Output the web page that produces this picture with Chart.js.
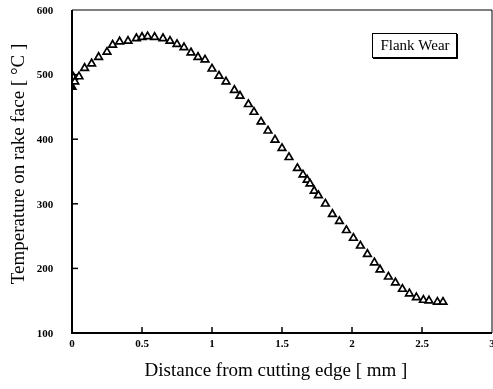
<!DOCTYPE html>
<html lang="en">

<head>
    <meta charset="UTF-8">
    <title>Flank Wear</title>
    <style>
        html, body { margin: 0; padding: 0; background: #fff; }
        #wrap { width: 493px; height: 389px; }
    </style>
</head>

<body>
    <div id="wrap"><canvas id="chart" width="493" height="389"></canvas></div>

    <script src="https://cdn.jsdelivr.net/npm/chart.js@4/dist/chart.umd.min.js"></script>

    <script>
        // data
        var distance = [0, 0.01, 0.02, 0.05, 0.09, 0.14, 0.19, 0.25, 0.29, 0.34, 0.40, 0.46, 0.50, 0.54, 0.59, 0.65,
            0.70, 0.75, 0.80, 0.85, 0.90, 0.95, 1.00, 1.05, 1.10, 1.16, 1.20, 1.26, 1.30, 1.35, 1.40, 1.45, 1.50,
            1.55, 1.61, 1.65, 1.68, 1.70, 1.73, 1.76, 1.81, 1.86, 1.91, 1.96, 2.01, 2.06, 2.11, 2.16, 2.20, 2.26,
            2.31, 2.36, 2.41, 2.46, 2.51, 2.55, 2.61, 2.65];
        var temperature = [481, 496, 489, 497, 510, 517, 527, 535, 546, 551, 552, 556, 558, 559, 558, 556,
            552, 547, 542, 534, 527, 523, 509, 498, 489, 476, 467, 454, 442, 427, 413, 399, 386,
            372, 355, 345, 337, 331, 320, 313, 300, 284, 273, 259, 247, 235, 222, 209, 198, 187,
            178, 168, 161, 155, 151, 150, 148, 148];
        var xTicks = [0, 0.5, 1, 1.5, 2, 2.5, 3];
        var xTickLabels = ["0", "0.5", "1", "1.5", "2", "2.5", "3"];
        var yTicks = [100, 200, 300, 400, 500, 600];
        var yTickLabels = ["100", "200", "300", "400", "500", "600"];
        var seriesName = "Flank Wear";
        var xTitle = "Distance from cutting edge [ mm ]";
        var yTitle = "Temperature on rake face [ °C ]";

        var points = distance.map(function (d, i) {
            return { x: d, y: temperature[i] };
        });

        var serif = '"Liberation Serif", "DejaVu Serif", serif';

        // frame, inward ticks, labels, titles and the boxed legend
        var decor = {
            id: "decor",
            afterDraw: function (chart) {
                var ctx = chart.ctx;
                var a = chart.chartArea;
                var xs = chart.scales.x;
                var ys = chart.scales.y;
                ctx.save();
                ctx.strokeStyle = "#000";
                ctx.fillStyle = "#000";

                // frame
                ctx.lineWidth = 1;
                ctx.beginPath();
                ctx.moveTo(a.left, a.top);
                ctx.lineTo(a.right, a.top);
                ctx.lineTo(a.right, a.bottom);
                ctx.stroke();
                ctx.lineWidth = 2;
                ctx.beginPath();
                ctx.moveTo(a.left, a.top);
                ctx.lineTo(a.left, a.bottom);
                ctx.lineTo(a.right, a.bottom);
                ctx.stroke();

                // ticks
                ctx.lineWidth = 1.5;
                xTicks.forEach(function (v) {
                    var px = xs.getPixelForValue(v);
                    if (v > 0 && v < 3) {
                        ctx.beginPath();
                        ctx.moveTo(px, a.bottom);
                        ctx.lineTo(px, a.bottom - 6);
                        ctx.stroke();
                    }
                });
                yTicks.forEach(function (v) {
                    var py = ys.getPixelForValue(v);
                    if (v > 100 && v < 600) {
                        ctx.beginPath();
                        ctx.moveTo(a.left, py);
                        ctx.lineTo(a.left + 6, py);
                        ctx.stroke();
                    }
                });

                // tick labels
                ctx.font = "bold 11px " + serif;
                ctx.textAlign = "center";
                ctx.textBaseline = "middle";
                xTicks.forEach(function (v, i) {
                    ctx.fillText(xTickLabels[i], xs.getPixelForValue(v), a.bottom + 11);
                });
                yTicks.forEach(function (v, i) {
                    ctx.fillText(yTickLabels[i], a.left - 27, ys.getPixelForValue(v) + 1);
                });

                // axis titles
                ctx.font = "19px " + serif;
                ctx.fillText(xTitle, 276, 371);
                ctx.save();
                ctx.translate(19, 164);
                ctx.rotate(-Math.PI / 2);
                ctx.fillText(yTitle, 0, 0);
                ctx.restore();

                // legend box
                ctx.lineWidth = 1;
                ctx.strokeRect(372.5, 33.5, 84, 24);
                ctx.lineWidth = 2;
                ctx.beginPath();
                ctx.moveTo(457, 34);
                ctx.lineTo(457, 58);
                ctx.lineTo(373, 58);
                ctx.stroke();
                ctx.font = "15px " + serif;
                ctx.fillText(seriesName, 415, 46);
                ctx.restore();
            }
        };

        new Chart(document.getElementById("chart"), {
            type: "scatter",
            data: {
                datasets: [{
                    label: seriesName,
                    data: points,
                    showLine: false,
                    pointStyle: "triangle",
                    pointRadius: 4.4,
                    pointBorderWidth: 1.7,
                    pointBorderColor: "#000",
                    pointBackgroundColor: function (c) {
                        return c.dataIndex === 0 ? "#000" : "#fff";
                    }
                }]
            },
            options: {
                responsive: false,
                animation: false,
                layout: {
                    autoPadding: false,
                    padding: { left: 72, right: 1, top: 10, bottom: 56 }
                },
                plugins: {
                    legend: { display: false },
                    tooltip: { enabled: false }
                },
                scales: {
                    x: {
                        type: "linear",
                        min: 0,
                        max: 3,
                        ticks: { display: false },
                        grid: { display: false, drawTicks: false },
                        border: { display: false }
                    },
                    y: {
                        type: "linear",
                        min: 100,
                        max: 600,
                        ticks: { display: false },
                        grid: { display: false, drawTicks: false },
                        border: { display: false }
                    }
                }
            },
            plugins: [decor]
        });
    </script>
</body>

</html>
